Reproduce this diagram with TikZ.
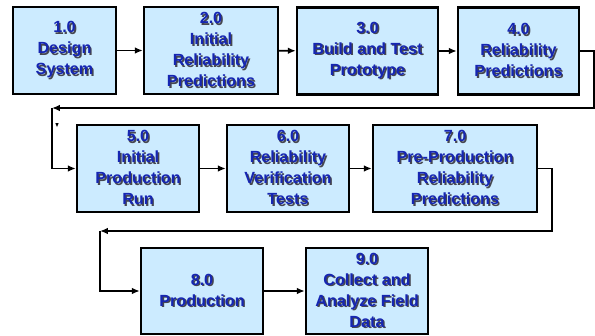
\documentclass[tikz,border=0pt]{standalone}
\usepackage{fontspec}
\setmainfont{Liberation Sans}
\usetikzlibrary{arrows.meta, calc}

\definecolor{stepfill}{RGB}{204,235,255}
\definecolor{stepblue}{RGB}{22,38,178}
\definecolor{stepshade}{RGB}{70,70,80}

% one line of text with its grey shadow
\newcommand{\shd}[1]{\rlap{\hspace{0.8pt}\raisebox{-0.8pt}{\textcolor{stepshade}{#1}}}#1}

\tikzset{
	stepbox/.style={draw, fill=stepfill, line width=1.4pt, minimum height=1.74cm,
		inner sep=0pt, align=center, text=stepblue,
		font=\fontsize{9.2}{12}\selectfont\bfseries},
	flow/.style={line width=1.1pt, -{Latex[length=4.5pt,width=3.8pt]}}
}

\begin{document}
\begin{tikzpicture}[x=0.02cm, y=-0.02cm]
	\useasboundingbox (0,0) rectangle (595,335);

	% first row
	\node[stepbox, minimum width=2.06cm](design) at (64.5,50.5) {\shd{1.0}\\ \shd{Design}\\ \shd{System}};
	\node[stepbox, minimum width=2.68cm](initpred) at (211,50.5) {\shd{2.0}\\ \shd{Initial}\\ \shd{Reliability}\\ \shd{Predictions}};
	\node[stepbox, minimum width=2.82cm](proto) at (367.5,51) {\shd{3.0}\\ \shd{Build and Test}\\ \shd{Prototype}};
	\node[stepbox, minimum width=2.42cm](relpred) at (518.5,51) {\shd{4.0}\\ \shd{Reliability}\\ \shd{Predictions}};

	% second row
	\node[stepbox, minimum width=2.44cm](initrun) at (138,168.5) {\shd{5.0}\\ \shd{Initial}\\ \shd{Production}\\ \shd{Run}};
	\node[stepbox, minimum width=2.44cm](verif) at (288,168.5) {\shd{6.0}\\ \shd{Reliability}\\ \shd{Verification}\\ \shd{Tests}};
	\node[stepbox, minimum width=3.28cm](preprod) at (455,168.5) {\shd{7.0}\\ \shd{Pre-Production}\\ \shd{Reliability}\\ \shd{Predictions}};

	% third row
	\node[stepbox, minimum width=2.44cm, minimum height=1.72cm](prod) at (202,291) {\shd{8.0}\\ \shd{Production}};
	\node[stepbox, minimum width=2.44cm, minimum height=1.72cm](field) at (367,291) {\shd{9.0}\\ \shd{Collect and}\\ \shd{Analyze Field}\\ \shd{Data}};

	\coordinate (turnA) at (594,108);
	\coordinate (backA) at (52,108);
	\coordinate (turnB) at (552,231);
	\coordinate (backB) at (100,231);

	\draw[flow] (design) -- (initpred);
	\draw[flow] (initpred) -- (proto);
	\draw[flow] (proto) -- (relpred);
	\draw[flow] (relpred.east) -| (turnA) -- (backA);
	\draw[flow] (backA) |- (initrun.west);
	\fill (55.3,123) -- (58.7,123) -- (57,127) -- cycle;

	\draw[flow] (initrun) -- (verif);
	\draw[flow] (verif) -- (preprod);
	\draw[flow] (preprod.east) -| (turnB) -- (backB);
	\draw[flow] (backB) |- (prod.west);

	\draw[flow] (prod) -- (field);
\end{tikzpicture}
\end{document}
